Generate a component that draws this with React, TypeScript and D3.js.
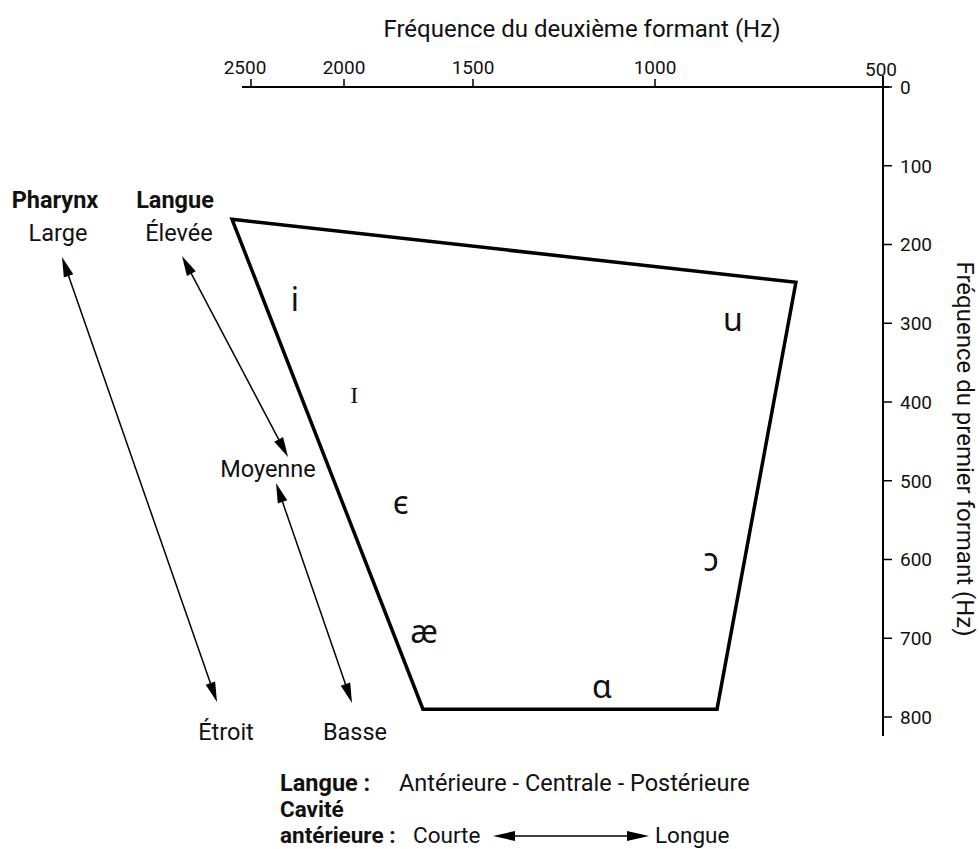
import React from "react";
import * as d3 from "d3";

// ---- Data ----
const F2_TICKS = [2500, 2000, 1500, 1000, 500];
const F1_TICKS = [0, 100, 200, 300, 400, 500, 600, 700, 800];

const VOWEL_SYMBOLS = ["i", "I", "ϵ", "æ", "ɑ", "ɔ", "u"];
const VOWEL_F1 = [270, 391, 528, 692, 762, 601, 296];
const VOWEL_F2 = [2264, 1960, 1780, 1690, 1146, 877, 829];

const HULL_F2 = [2602, 691, 864, 1694];
const HULL_F1 = [168, 248, 790, 790];

const W = 979;
const H = 849;
const FONT = "Roboto, 'Noto Sans', sans-serif";

function arrowHead(x1: number, y1: number, x2: number, y2: number, len = 20, half = 5) {
  const dx = x2 - x1;
  const dy = y2 - y1;
  const d = Math.hypot(dx, dy);
  const ux = dx / d;
  const uy = dy / d;
  const bx = x2 - ux * len;
  const by = y2 - uy * len;
  const px = -uy * half;
  const py = ux * half;
  return `M${x2},${y2}L${bx + px},${by + py}L${bx - px},${by - py}Z`;
}

function DoubleArrow({ x1, y1, x2, y2, len = 20, half = 5 }: any) {
  const dx = x2 - x1;
  const dy = y2 - y1;
  const d = Math.hypot(dx, dy);
  const ux = dx / d;
  const uy = dy / d;
  return (
    <g>
      <line
        x1={x1 + ux * (len - 2)}
        y1={y1 + uy * (len - 2)}
        x2={x2 - ux * (len - 2)}
        y2={y2 - uy * (len - 2)}
        stroke="#000"
        strokeWidth={1.5}
      />
      <path d={arrowHead(x2, y2, x1, y1, len, half)} fill="#000" />
      <path d={arrowHead(x1, y1, x2, y2, len, half)} fill="#000" />
    </g>
  );
}

export default function App() {
  const x = d3.scaleLinear().domain(F2_TICKS).range([251, 344, 473, 655, 883]);
  const y = d3.scaleLinear().domain([0, 800]).range([87, 717]);

  const hull = d3.range(HULL_F2.length).map((i) => [x(HULL_F2[i]), y(HULL_F1[i])] as [number, number]);
  const hullPath = d3.line()(hull) + "Z";

  const axisX = x(500);
  const axisY = y(0);
  const LBL = 23.5;

  return (
    <svg width={W} height={H} style={{ position: "absolute", left: 0, top: 0, background: "#fff" }} fontFamily={FONT}>
      <rect width={W} height={H} fill="#fff" />
      {/* Top axis */}
      <text x={582} y={37} textAnchor="middle" fontSize={24} fill="#111">
        Fréquence du deuxième formant (Hz)
      </text>
      <line x1={242} y1={axisY} x2={axisX + 6} y2={axisY} stroke="#000" strokeWidth={2} />
      {F2_TICKS.map((t) => (
        <g key={t}>
          <line x1={x(t)} x2={x(t)} y1={axisY} y2={axisY - 8} stroke="#000" strokeWidth={1.5} />
          <text x={x(t) - (t === 2500 ? 6 : t === 500 ? 2 : 0)} y={t === 500 ? 76 : 74} textAnchor="middle" fontSize={19} fill="#111">
            {t}
          </text>
        </g>
      ))}

      {/* Right axis */}
      <line x1={axisX} x2={axisX} y1={axisY - 11} y2={y(800) + 19} stroke="#000" strokeWidth={2} />
      {F1_TICKS.map((t) => (
        <g key={t}>
          <line x1={axisX} x2={axisX + 9} y1={y(t)} y2={y(t)} stroke="#000" strokeWidth={1.5} />
          <text x={900} y={y(t)} dy="0.36em" fontSize={19} fill="#111">
            {t}
          </text>
        </g>
      ))}
      <text transform={`translate(957,449) rotate(90)`} textAnchor="middle" fontSize={24} fill="#111">
        Fréquence du premier formant (Hz)
      </text>

      {/* Vowel quadrilateral */}
      <path d={hullPath} fill="none" stroke="#000" strokeWidth={3.5} strokeLinejoin="miter" />

      {/* Vowels */}
      {VOWEL_SYMBOLS.map((s, i) => (
        <text
          key={s}
          x={x(VOWEL_F2[i])}
          y={y(VOWEL_F1[i])}
          dy="0.35em"
          textAnchor="middle"
          fontSize={s === "I" ? 24 : 32}
          fontFamily={s === "I" ? "'Liberation Serif', serif" : "'Noto Sans', 'DejaVu Sans', sans-serif"}
          fill="#111"
        >
          {s}
        </text>
      ))}

      {/* Left annotations */}
      <text x={55} y={208} textAnchor="middle" fontSize={LBL} fontWeight="bold" fill="#111">Pharynx</text>
      <text x={58} y={241} textAnchor="middle" fontSize={LBL} fill="#111">Large</text>
      <text x={175} y={208} textAnchor="middle" fontSize={LBL} fontWeight="bold" fill="#111">Langue</text>
      <text x={179} y={241} textAnchor="middle" fontSize={LBL} fill="#111">Élevée</text>
      <text x={268} y={477} textAnchor="middle" fontSize={LBL} fill="#111">Moyenne</text>
      <text x={226} y={740} textAnchor="middle" fontSize={LBL} fill="#111">Étroit</text>
      <text x={355} y={740} textAnchor="middle" fontSize={LBL} fill="#111">Basse</text>

      <DoubleArrow x1={62} y1={257} x2={217} y2={702} />
      <DoubleArrow x1={182} y1={256} x2={288} y2={457} />
      <DoubleArrow x1={276} y1={483} x2={352} y2={703} />

      {/* Bottom annotations */}
      <text x={280} y={791} fontSize={LBL} fontWeight="bold" fill="#111">Langue :</text>
      <text x={399} y={791} fontSize={LBL} fill="#111">Antérieure - Centrale - Postérieure</text>
      <text x={280} y={817} fontSize={22.5} fontWeight="bold" fill="#111">Cavité</text>
      <text x={280} y={843} fontSize={22.5} fontWeight="bold" fill="#111">antérieure :</text>
      <text x={413} y={843} fontSize={22.5} fill="#111">Courte</text>
      <DoubleArrow x1={493} y1={836} x2={649} y2={836} len={22} half={5} />
      <text x={655} y={843} fontSize={22.5} fill="#111">Longue</text>
    </svg>
  );
}
